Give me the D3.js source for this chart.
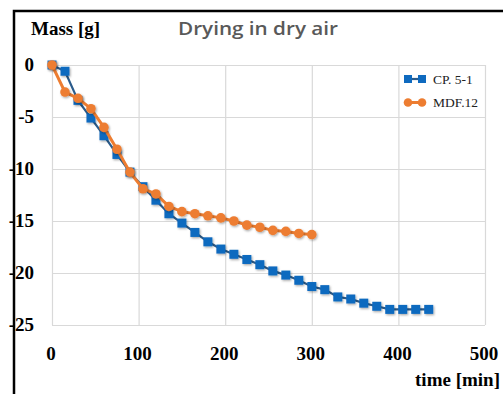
<!DOCTYPE html>
<html>
<head>
<meta charset="utf-8">
<script src="https://cdn.jsdelivr.net/npm/d3@7"></script>
<style>
  body { margin: 0; background: #fff; }
  svg { display: block; }
</style>
</head>
<body>
<main></main>
<script>
// chart data
const seriesNames = ['CP. 5-1', 'MDF.12'];
const cpTimes = [0, 15, 30, 45, 60, 75, 90, 105, 120, 135, 150, 165, 180, 195, 210, 225, 240, 255, 270, 285, 300, 315, 330, 345, 360, 375, 390, 405, 420, 435];
const cpMass = [0, -0.6, -3.4, -5.1, -6.8, -8.6, -10.3, -11.7, -13.0, -14.3, -15.2, -16.1, -17.0, -17.7, -18.2, -18.7, -19.2, -19.8, -20.2, -20.7, -21.3, -21.6, -22.3, -22.5, -22.9, -23.2, -23.5, -23.5, -23.5, -23.5];
const mdfTimes = [0, 15, 30, 45, 60, 75, 90, 105, 120, 135, 150, 165, 180, 195, 210, 225, 240, 255, 270, 285, 300];
const mdfMass = [0, -2.6, -3.2, -4.2, -6.0, -8.1, -10.3, -11.9, -12.4, -13.6, -14.1, -14.3, -14.5, -14.7, -15.0, -15.4, -15.6, -15.9, -16.0, -16.2, -16.3];
const xTicks = [0, 100, 200, 300, 400, 500];
const yTicks = [0, -5, -10, -15, -20, -25];

const width = 503;
const height = 394;
const blue = '#0F6ABF';
const blueLine = '#2B5C8C';
const orange = '#ED7D31';

const svg = d3.select('main')
  .append('svg')
  .attr('width', width)
  .attr('height', height);

// soft shadow under the markers
const defs = svg.append('defs');
defs.append('filter')
  .attr('id', 'shadow')
  .attr('x', '-50%').attr('y', '-50%')
  .attr('width', '200%').attr('height', '200%')
  .append('feDropShadow')
  .attr('dx', 1).attr('dy', 1.2)
  .attr('stdDeviation', 1)
  .attr('flood-color', '#000')
  .attr('flood-opacity', 0.35);

/************************************************************************
 scales
************************************************************************/
const xScale = d3.scaleLinear().domain([0, 500]).range([52, 485]);
const yScale = d3.scaleLinear().domain([0, -25]).range([65, 325]);

/************************************************************************
 grid + axes
************************************************************************/
const serif = '"Liberation Serif", "Times New Roman", serif';

svg.append('g')
  .attr('transform', `translate(0, ${yScale(-25)})`)
  .call(d3.axisBottom(xScale).tickValues(xTicks).tickSize(-(yScale(-25) - yScale(0))).tickFormat(''))
  .call(g => g.select('.domain').remove())
  .call(g => g.selectAll('line').attr('stroke', '#d9d9d9').attr('stroke-width', 1.2));

svg.append('g')
  .attr('transform', `translate(${xScale(0)}, 0)`)
  .call(d3.axisLeft(yScale).tickValues(yTicks).tickSize(-(xScale(500) - xScale(0))).tickFormat(''))
  .call(g => g.select('.domain').remove())
  .call(g => g.selectAll('line').attr('stroke', '#d9d9d9').attr('stroke-width', 1.2));

// tick labels
svg.append('g')
  .selectAll('text')
  .data(yTicks)
  .enter()
  .append('text')
  .attr('x', 34)
  .attr('y', d => yScale(d) + 6)
  .attr('text-anchor', 'end')
  .attr('font-family', serif)
  .attr('font-weight', 'bold')
  .attr('font-size', 19)
  .attr('fill', '#000')
  .text(d => String(d));

svg.append('g')
  .selectAll('text')
  .data(xTicks)
  .enter()
  .append('text')
  .attr('x', d => xScale(d) - 1)
  .attr('y', 360)
  .attr('text-anchor', 'middle')
  .attr('font-family', serif)
  .attr('font-weight', 'bold')
  .attr('font-size', 19)
  .attr('fill', '#000')
  .text(d => d);

/************************************************************************
 series
************************************************************************/
const line = d3.line().x(d => xScale(d[0])).y(d => yScale(d[1]));
const cpData = cpTimes.map((t, i) => [t, cpMass[i]]);
const mdfData = mdfTimes.map((t, i) => [t, mdfMass[i]]);

svg.append('path')
  .datum(cpData)
  .attr('d', line)
  .attr('fill', 'none')
  .attr('stroke', blueLine)
  .attr('stroke-width', 2.2);

svg.append('g')
  .attr('filter', 'url(#shadow)')
  .selectAll('rect')
  .data(cpData)
  .enter()
  .append('rect')
  .attr('x', d => xScale(d[0]) - 4.5)
  .attr('y', d => yScale(d[1]) - 4.5)
  .attr('width', 9)
  .attr('height', 9)
  .attr('fill', blue);

svg.append('path')
  .datum(mdfData)
  .attr('d', line)
  .attr('fill', 'none')
  .attr('stroke', orange)
  .attr('stroke-width', 3);

svg.append('g')
  .attr('filter', 'url(#shadow)')
  .selectAll('circle')
  .data(mdfData)
  .enter()
  .append('circle')
  .attr('cx', d => xScale(d[0]))
  .attr('cy', d => yScale(d[1]))
  .attr('r', 4.8)
  .attr('fill', orange);

/************************************************************************
 legend
************************************************************************/
const legend = svg.append('g');
[[blueLine, blue, 'rect'], [orange, orange, 'circle']].forEach((s, i) => {
  const ly = 79 + i * 23.5;
  legend.append('line')
    .attr('x1', 408).attr('x2', 422)
    .attr('y1', ly).attr('y2', ly)
    .attr('stroke', s[0])
    .attr('stroke-width', i ? 3 : 2.2);
  [408, 422].forEach(mx => {
    if (s[2] === 'rect') {
      legend.append('rect')
        .attr('x', mx - 4).attr('y', ly - 4)
        .attr('width', 8).attr('height', 8)
        .attr('fill', s[1]);
    } else {
      legend.append('circle')
        .attr('cx', mx).attr('cy', ly)
        .attr('r', 4.3)
        .attr('fill', s[1]);
    }
  });
  legend.append('text')
    .attr('x', 433)
    .attr('y', ly + 4.5)
    .attr('font-family', serif)
    .attr('font-size', 13.5)
    .attr('fill', '#222')
    .text(seriesNames[i]);
});

/************************************************************************
 titles
************************************************************************/
svg.append('text')
  .attr('x', 31)
  .attr('y', 35)
  .attr('font-family', serif)
  .attr('font-weight', 'bold')
  .attr('font-size', 19)
  .attr('fill', '#000')
  .text('Mass [g]');

svg.append('text')
  .attr('x', 178)
  .attr('y', 35)
  .attr('font-family', '"Open Sans", sans-serif')
  .attr('font-weight', 600)
  .attr('font-size', 18)
  .attr('fill', '#595959')
  .attr('textLength', 160)
  .attr('lengthAdjust', 'spacingAndGlyphs')
  .text('Drying in dry air');

svg.append('text')
  .attr('x', 500)
  .attr('y', 386)
  .attr('text-anchor', 'end')
  .attr('font-family', serif)
  .attr('font-weight', 'bold')
  .attr('font-size', 19)
  .attr('fill', '#000')
  .text('time [min]');

// black frame lines along the top and the left edge
svg.append('path')
  .attr('d', `M14,${height} L14,11 L${width},11`)
  .attr('fill', 'none')
  .attr('stroke', '#000')
  .attr('stroke-width', 2.5);
</script>
</body>
</html>
